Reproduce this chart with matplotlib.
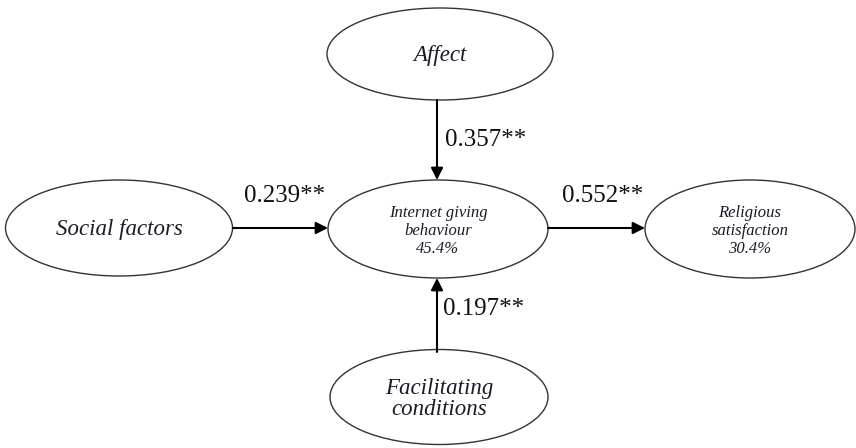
import matplotlib.pyplot as plt
from matplotlib.patches import Ellipse

# path model data
nodes = ['Affect', 'Social factors', 'Internet giving\nbehaviour\n45.4%',
         'Religious\nsatisfaction\n30.4%', 'Facilitating\nconditions']
paths = [('Affect', 'Internet giving\nbehaviour\n45.4%'),
         ('Social factors', 'Internet giving\nbehaviour\n45.4%'),
         ('Internet giving\nbehaviour\n45.4%', 'Religious\nsatisfaction\n30.4%'),
         ('Facilitating\nconditions', 'Internet giving\nbehaviour\n45.4%')]
coefs = [0.357, 0.239, 0.552, 0.197]
stars = ['**', '**', '**', '**']

# layout (pixel coords, y down): cx, cy, width, height, fontsize, linespacing
layout = {
    nodes[0]: (440, 54, 226, 92, 16.5, 1.0),
    nodes[1]: (119, 228, 227, 96, 16.5, 1.0),
    nodes[2]: (438, 229, 220, 98, 12, 1.2),
    nodes[3]: (750, 229, 210, 98, 12, 1.2),
    nodes[4]: (439, 397, 218, 95, 16.5, 0.95),
}
# start, end and label position for each path
arrow_pts = [((437, 100), (437, 180), (445, 140, 'left')),
             ((233, 228), (328, 228), (285, 196, 'center')),
             ((548, 228), (645, 228), (603, 196, 'center')),
             ((437, 352), (437, 278), (443, 309, 'left'))]

plt.rcParams['font.family'] = ['Liberation Serif', 'DejaVu Serif']

fig = plt.figure(figsize=(8.56, 4.48), dpi=100)
ax = fig.add_axes([0, 0, 1, 1])
ax.set_xlim(0, 856)
ax.set_ylim(448, 0)
ax.axis('off')

for name in nodes:
    cx, cy, w, h, fs, ls = layout[name]
    ax.add_patch(Ellipse((cx, cy), w, h, fill=False, ec='#333333', lw=1.0))
    ax.text(cx, cy + 2, name, ha='center', va='center', fontsize=fs,
            style='italic', color='#1a1a2a', linespacing=ls)

for (p0, p1, lab), c, s in zip(arrow_pts, coefs, stars):
    ax.annotate('', xy=p1, xytext=p0,
                arrowprops=dict(arrowstyle='-|>', color='black', lw=1.5,
                                mutation_scale=18, shrinkA=0, shrinkB=0))
    ax.text(lab[0], lab[1], '%.3f%s' % (c, s), ha=lab[2], va='center',
            fontsize=18, color='#111111')

fig.savefig('out.png', dpi=100)
